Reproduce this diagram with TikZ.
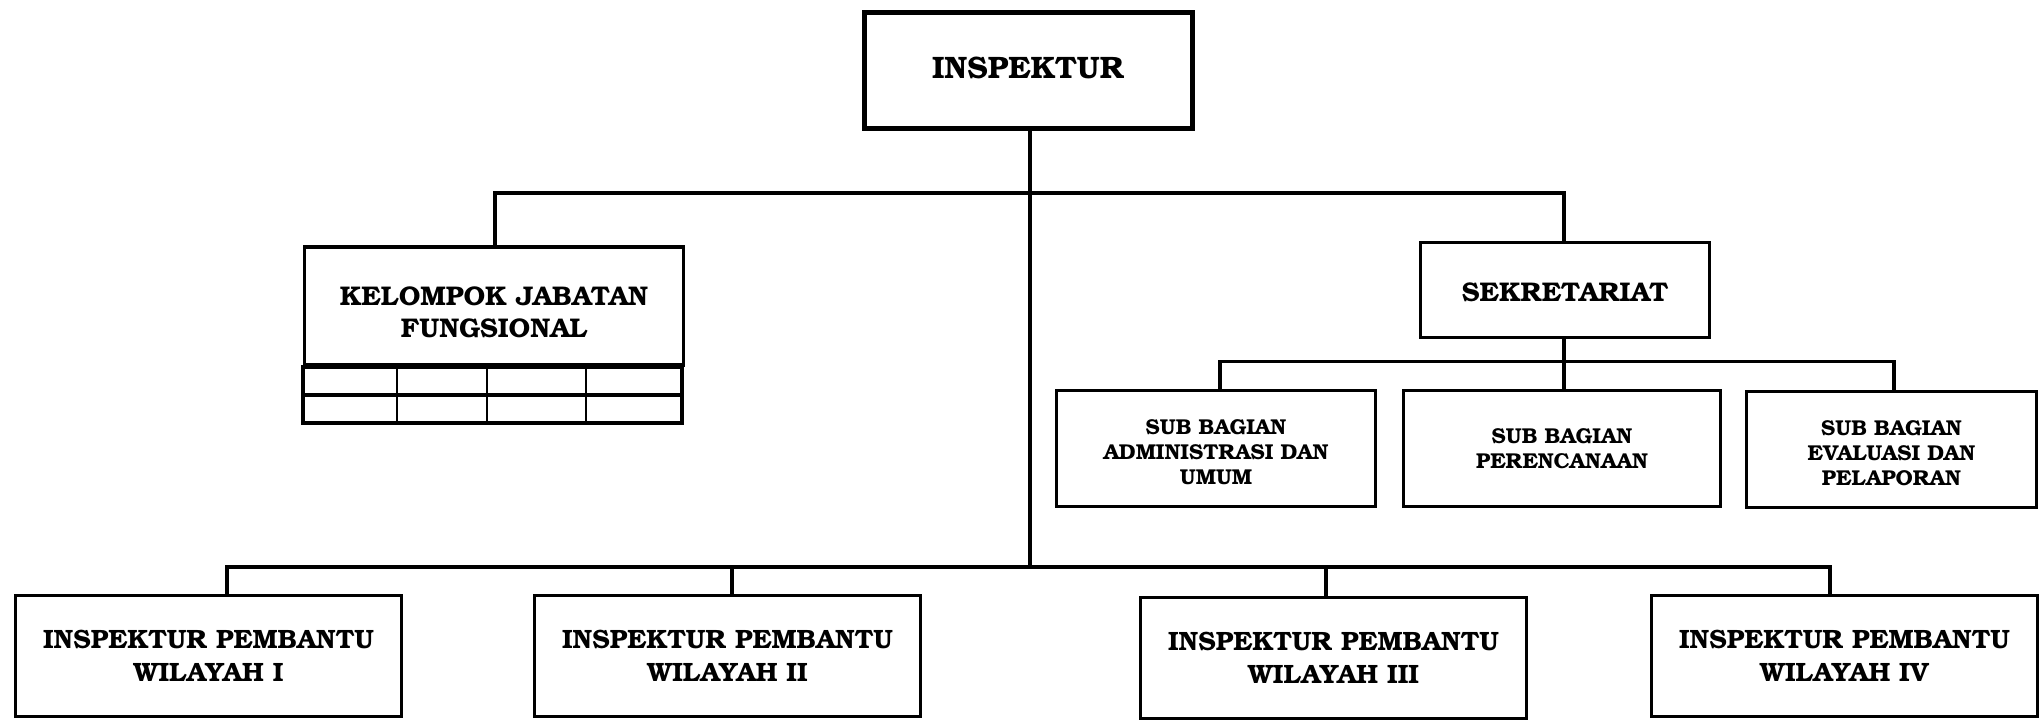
\documentclass[tikz,border=0pt]{standalone}
\usepackage{fontspec}
\setmainfont{texgyrebonum}[Extension=.otf,UprightFont=*-regular,BoldFont=*-bold]
\usetikzlibrary{positioning}

\begin{document}
\begin{tikzpicture}[x=1pt,y=-1pt,
  box/.style={draw,rectangle,line width=3.5pt,inner sep=0pt,align=center,
    font=\bfseries\fontsize{27}{31.7}\selectfont},
  subbox/.style={box,minimum height=116pt,text height=71pt,text depth=0pt,
    font=\bfseries\fontsize{21.5}{25}\selectfont},
  wilbox/.style={box,minimum width=386pt,minimum height=121pt,font=\bfseries\fontsize{26.5}{33}\selectfont},
  conn/.style={line width=3.5pt}]
\useasboundingbox (0,0) rectangle (2039,722);

% pimpinan
\node[box,line width=5pt,minimum width=328pt,minimum height=116pt,text height=21pt,text depth=5pt,
  font=\bfseries\fontsize{31}{35}\selectfont] (insp) at (1028,71) {INSPEKTUR};

% kelompok jabatan fungsional
\node[box,minimum width=379pt,minimum height=118pt,text height=62pt,text depth=0pt] (kjf) at (494,306)
  {KELOMPOK JABATAN\\FUNGSIONAL};
\draw[conn] (kjf.south west) rectangle ++(379,56);
\draw[conn] (kjf.south west) ++(0,28) -- ++(379,0);
\foreach \dx in {94.5,184.5,283.5}
  \draw[line width=1.8pt] (kjf.south west) ++(\dx,0) -- ++(0,56);

% sekretariat
\node[box,minimum width=289pt,minimum height=95pt,text height=23.6pt,text depth=0pt] (sek) at (1565,290) {SEKRETARIAT};
\node[subbox,minimum width=319pt] (adm) at (1216,448.5) {SUB BAGIAN\\ADMINISTRASI DAN\\UMUM};
\node[subbox,minimum width=317pt,text height=40pt] (ren) at (1562,448.5) {SUB BAGIAN\\PERENCANAAN};
\node[subbox,minimum width=290pt] (eva) at (1891.5,449.5) {SUB BAGIAN\\EVALUASI DAN\\PELAPORAN};

% inspektur pembantu
\node[wilbox] (w1) at (208.5,656) {INSPEKTUR PEMBANTU\\WILAYAH I};
\node[wilbox] (w2) at (727.5,656) {INSPEKTUR PEMBANTU\\WILAYAH II};
\node[wilbox] (w3) at (1333.5,658) {INSPEKTUR PEMBANTU\\WILAYAH III};
\node[wilbox] (w4) at (1844.5,656) {INSPEKTUR PEMBANTU\\WILAYAH IV};

% garis
\coordinate (tk) at (1030,193);
\coordinate (bk) at (1030,567);
\coordinate (sb) at (1564,361.5);
\draw[conn] (insp.south -| tk) -- (bk);
\draw[conn] (kjf.north -| 495,0) |- (tk) -| (sek.north -| sb);
\draw[conn] (sek.south -| sb) -- (ren.north -| sb);
\draw[conn] (adm.north -| 1220,0) |- (sb) -| (eva.north -| 1894,0);
\draw[conn] (w1.north -| 227,0) |- (bk) -| (w4.north -| 1830,0);
\draw[conn] (w2.north -| 732,0) -- (732,567);
\draw[conn] (w3.north -| 1326,0) -- (1326,567);
\end{tikzpicture}
\end{document}
